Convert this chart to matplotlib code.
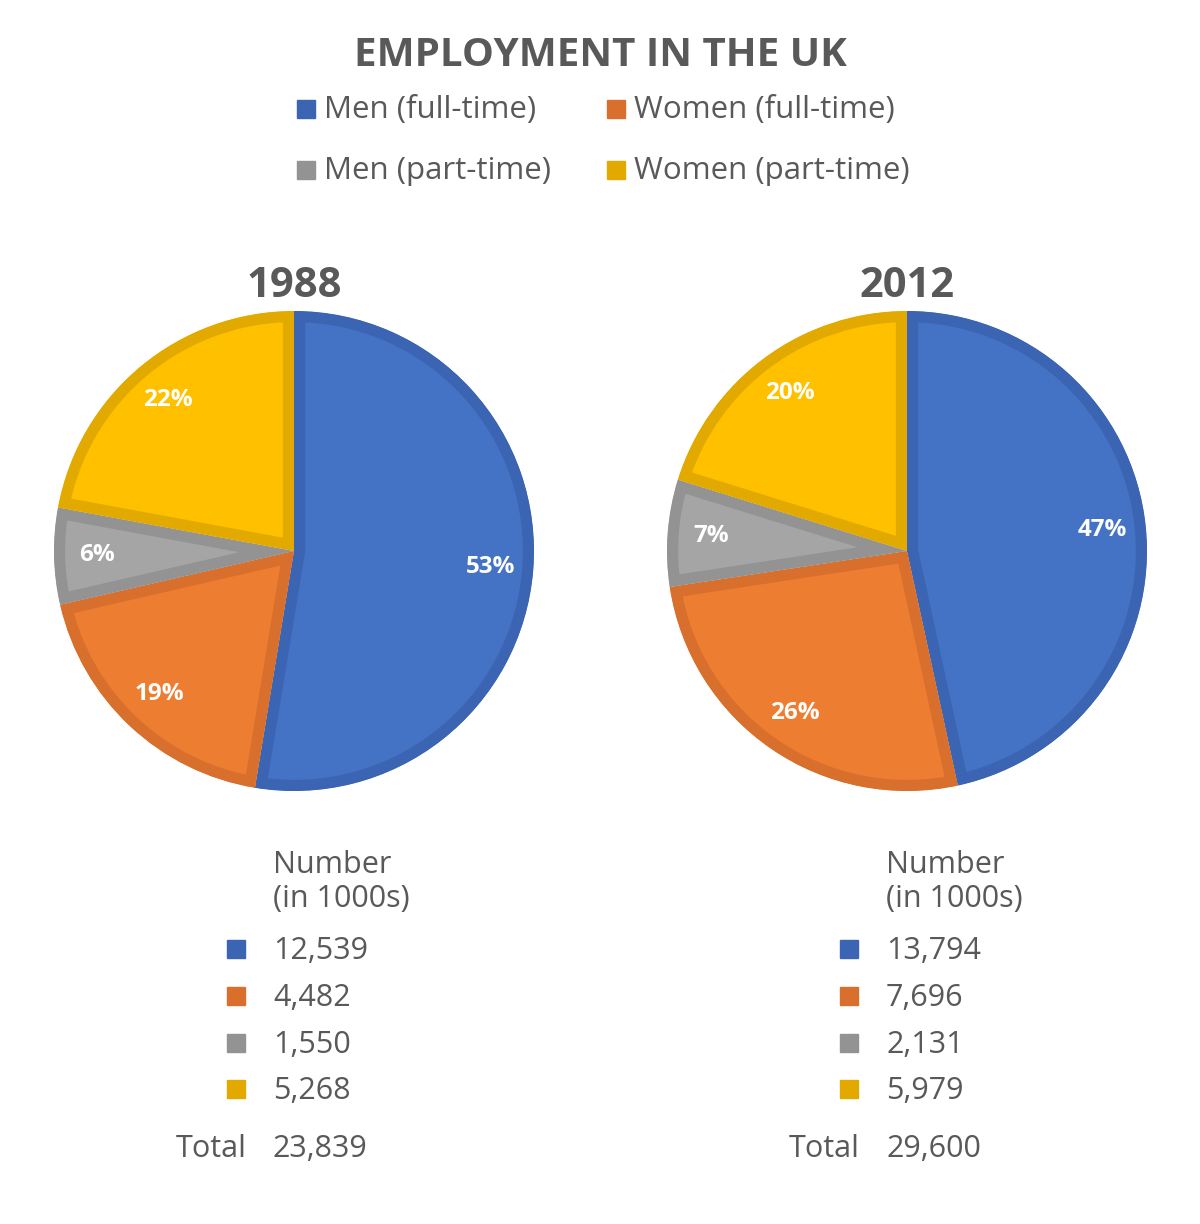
import numpy as np
import matplotlib.pyplot as plt
from matplotlib.patches import Rectangle

plt.rcParams['font.family'] = ['Open Sans', 'DejaVu Sans']

W, H = 1200, 1224

categories = ["Men (full-time)", "Women (full-time)", "Men (part-time)", "Women (part-time)"]
years = ["1988", "2012"]
numbers_1988 = [12539, 4482, 1550, 5268]
numbers_2012 = [13794, 7696, 2131, 5979]
pct_1988 = [53, 19, 6, 22]
pct_2012 = [47, 26, 7, 20]
total_1988 = 23839
total_2012 = 29600

face_colors = ['#4472C4', '#ED7D31', '#A5A5A5', '#FFC000']
edge_colors = ['#3B64B3', '#D86F2C', '#939393', '#E2AA00']
text_color = '#595959'


def fx(x):
    return x / W


def fy(y):
    return 1 - y / H


fig = plt.figure(figsize=(12, 12.24), dpi=100)

fig.text(fx(600), fy(55), "EMPLOYMENT IN THE UK", ha='center', va='center',
         fontsize=29, fontweight='bold', color=text_color)

# legend, two rows of two
leg_pos = [(300, 109), (610, 109), (300, 170), (610, 170)]
for (x, y), lab, col in zip(leg_pos, categories, edge_colors):
    fig.patches.append(Rectangle((fx(x - 3), fy(y + 9)), 18 / W, 18 / H,
                                 transform=fig.transFigure, color=col))
    fig.text(fx(x + 24), fy(y + 1), lab, ha='left', va='center',
             fontsize=22.5, color=text_color)

panels = [
    (294, years[0], numbers_1988, pct_1988, total_1988),
    (907, years[1], numbers_2012, pct_2012, total_2012),
]

R = 240
CY = 551
for cx, year, nums, pcts, total in panels:
    ax = fig.add_axes([fx(cx - R), fy(CY + R), 2 * R / W, 2 * R / H])
    wedges, _ = ax.pie(nums, colors=face_colors, startangle=90, counterclock=False,
                       radius=1, wedgeprops=dict(linewidth=16))
    # border drawn only inside each slice
    for w, ec in zip(wedges, edge_colors):
        w.set_edgecolor(ec)
        w.set_clip_on(True)
        w.set_clip_path(w)
    for w, p in zip(wedges, pcts):
        ang = np.deg2rad((w.theta1 + w.theta2) / 2)
        ax.text(0.82 * np.cos(ang), 0.82 * np.sin(ang), f"{p}%", ha='center', va='center',
                fontsize=17.5, fontweight='bold', color='white')
    ax.set_xlim(-1, 1)
    ax.set_ylim(-1, 1)
    ax.set_aspect('equal')
    ax.axis('off')

    fig.text(fx(cx), fy(286), year, ha='center', va='center',
             fontsize=30, fontweight='bold', color=text_color)

    tx = cx - 21
    fs = 22
    fig.text(fx(tx), fy(865), "Number", ha='left', va='center', fontsize=fs, color=text_color)
    fig.text(fx(tx), fy(899), "(in 1000s)", ha='left', va='center', fontsize=fs, color=text_color)
    row_y = [949, 996, 1043, 1089]
    for y, n, col in zip(row_y, nums, edge_colors):
        fig.patches.append(Rectangle((fx(tx - 46), fy(y + 9)), 18 / W, 18 / H,
                                     transform=fig.transFigure, color=col))
        fig.text(fx(tx), fy(y + 2), f"{n:,}", ha='left', va='center', fontsize=fs, color=text_color)
    fig.text(fx(tx - 26), fy(1149), "Total", ha='right', va='center', fontsize=fs, color=text_color)
    fig.text(fx(tx), fy(1149), f"{total:,}", ha='left', va='center', fontsize=fs, color=text_color)

fig.savefig("out.png", dpi=100, facecolor='white')
